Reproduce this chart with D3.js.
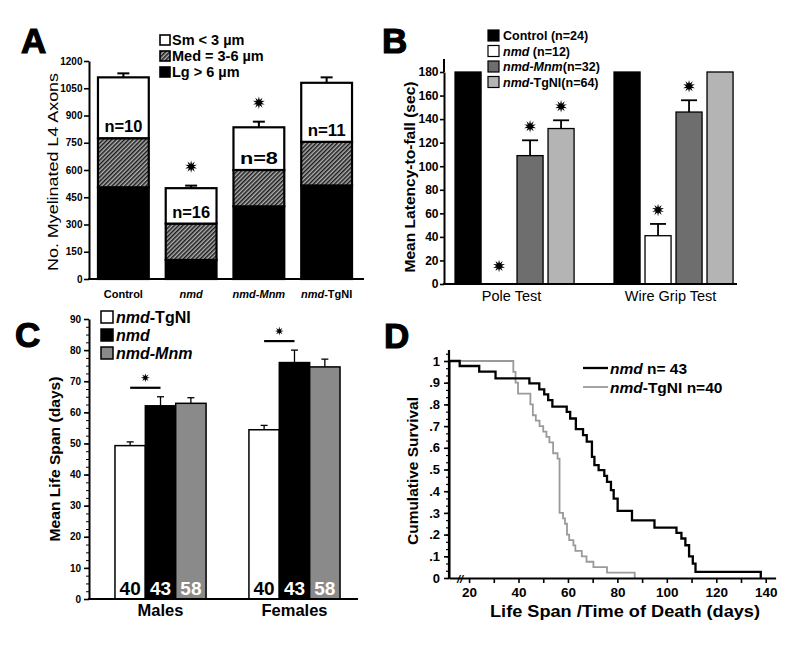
<!DOCTYPE html>
<html><head><meta charset="utf-8">
<script src="https://cdn.jsdelivr.net/npm/d3@7"></script>
<style>
body{margin:0;background:#fff}
svg{display:block;background:#fff}
text{font-family:"Liberation Sans",Arial,Helvetica,sans-serif}
</style>
</head><body>
<svg id="fig" width="800" height="654"></svg>
<script>
// ---------------- DATA ----------------
// Panel A: myelinated L4 axons (stacked)
const axonGroups = ["Control", "nmd", "nmd-Mnm", "nmd-TgNI"];
const axonLg  = [505, 105, 400, 515];
const axonMed = [270, 200, 200, 240];
const axonSm  = [335, 195, 235, 325];
const axonErr = [22, 14, 31, 30];
const axonN   = ["n=10", "n=16", "n=8", "n=11"];
const axonSig = [false, true, true, false];
const axonTicks = [0, 150, 300, 450, 600, 750, 900, 1050, 1200];

// Panel B: latency to fall
const tests = ["Pole Test", "Wire Grip Test"];
const latGenotypes = ["Control", "nmd", "nmd-Mnm", "nmd-TgNI"];
const latControl = [180, 180];
const latNmd     = [0, 41];
const latMnm     = [109, 146];
const latTgNI    = [132, 180];
const errControl = [0, 0];
const errNmd     = [0, 10];
const errMnm     = [13, 10];
const errTgNI    = [7, 0];
const sigControl = [false, false];
const sigNmd     = [true, true];
const sigMnm     = [true, true];
const sigTgNI    = [true, false];
const latTicks = [0, 20, 40, 60, 80, 100, 120, 140, 160, 180];

// Panel C: mean life span
const sexes = ["Males", "Females"];
const lifeGenotypes = ["nmd-TgNI", "nmd", "nmd-Mnm"];
const lifeTgNI = [49.3, 54.4];
const lifeNmd  = [62.1, 76.0];
const lifeMnm  = [62.9, 74.6];
const lifeErrTgNI = [1.2, 1.4];
const lifeErrNmd  = [2.9, 4.0];
const lifeErrMnm  = [1.8, 2.5];
const lifeN = ["40", "43", "58"];
const lifeTicks = [0, 10, 20, 30, 40, 50, 60, 70, 80, 90];

// Panel D: Kaplan-Meier survival steps [day, cumulative survival]
const kmNmd = [[12,1],[16.2,0.977],[24.1,0.951],[30.7,0.92],[44.4,0.897],[48.4,0.869],[50.4,0.846],
  [52,0.82],[53.7,0.79],[59.5,0.766],[60.9,0.735],[63.2,0.686],[66.1,0.658],[67.6,0.628],
  [69.7,0.558],[70.7,0.52],[72.4,0.497],[74.7,0.471],[75.8,0.443],[77.4,0.405],[78.5,0.366],
  [80.1,0.309],[85.9,0.266],[95,0.232],[103.9,0.208],[105.9,0.182],[107.5,0.151],[109,0.1],
  [110.5,0.066],[111.6,0.028],[138,0]];
const kmTgNI = [[12,1],[37.9,0.95],[38.8,0.9],[39.8,0.85],[44.8,0.8],[45.8,0.75],[47,0.725],
  [48.5,0.7],[50,0.675],[51.3,0.65],[52.5,0.625],[54,0.575],[55.8,0.55],[56.6,0.3],[58,0.275],
  [58.8,0.25],[59.6,0.2],[60.5,0.175],[62.2,0.15],[63,0.125],[65.6,0.1],[67.5,0.075],[70.3,0.05],
  [75.8,0.025],[87,0]];
const dayTicks = [20, 40, 60, 80, 100, 120, 140];
const survTicks = [0, .1, .2, .3, .4, .5, .6, .7, .8, .9, 1];

// ---------------- HELPERS ----------------
const svg = d3.select("#fig");
const defs = svg.append("defs");
const pat = defs.append("pattern").attr("id","hatch").attr("width",3).attr("height",3)
  .attr("patternUnits","userSpaceOnUse").attr("patternTransform","rotate(45)");
pat.append("rect").attr("width",3).attr("height",3).attr("fill","#b0b0b0");
pat.append("line").attr("x1",0.75).attr("y1",0).attr("x2",0.75).attr("y2",3).attr("stroke","#1a1a1a").attr("stroke-width",1.5);

function starPath(r1, r2, n) {
  const pts = [];
  for (let i = 0; i < 2*n; i++) {
    const a = i*Math.PI/n - Math.PI/2, r = i%2 ? r2 : r1;
    pts.push([r*Math.cos(a), r*Math.sin(a)]);
  }
  return "M" + pts.map(p => p[0].toFixed(2)+","+p[1].toFixed(2)).join("L") + "Z";
}
const bigStar = starPath(6.2, 2.8, 10);
const smallStar = starPath(4.5, 1.8, 8);

function mixedText(sel, parts) {
  parts.forEach(p => sel.append("tspan").attr("font-style", p[1] ? "italic" : "normal").text(p[0]));
  return sel;
}
function genoParts(name) {
  if (name === "nmd") return [["nmd", true]];
  if (name === "nmd-Mnm") return [["nmd-Mnm", true]];
  if (name === "nmd-TgNI") return [["nmd", true], ["-TgNI", false]];
  return [[name, false]];
}
function panelLetter(t, x, y) {
  svg.append("text").attr("x", x).attr("y", y).attr("font-size", 35).attr("font-weight", 900)
    .attr("stroke","#000").attr("stroke-width",1.2).text(t);
}
function styleAxis(g, fs, bold) {
  g.select(".domain").attr("stroke", "#000").attr("stroke-width", 2);
  g.selectAll(".tick line").attr("stroke", "#000").attr("stroke-width", 1.6);
  g.selectAll(".tick text").attr("font-size", fs).attr("font-weight", bold ? "bold" : "normal")
    .attr("fill", "#000").attr("font-family", '"Liberation Sans",Arial,sans-serif');
}

// ---------------- PANEL A ----------------
panelLetter("A", 21, 53);
const xA = d3.scaleBand().domain(axonGroups).range([89.5, 360.5]).paddingInner(0.25).paddingOuter(0.125);
const yA = d3.scaleLinear().domain([0, 1200]).range([279, 61]);
const rowsA = axonGroups.map((g, i) => ({group: g, lg: axonLg[i], med: axonMed[i], sm: axonSm[i]}));
const stackA = d3.stack().keys(["lg", "med", "sm"])(rowsA);
const fillA = {lg: "#000", med: "url(#hatch)", sm: "#fff"};
const gA = svg.append("g");
stackA.forEach(layer => {
  gA.selectAll(null).data(layer).join("rect")
    .attr("x", d => xA(d.data.group)).attr("width", xA.bandwidth())
    .attr("y", d => yA(d[1])).attr("height", d => yA(d[0]) - yA(d[1]))
    .attr("fill", fillA[layer.key]).attr("stroke", "#000").attr("stroke-width", 2.2);
});
rowsA.forEach((r, i) => {
  const tot = r.lg + r.med + r.sm, cx = xA(r.group) + xA.bandwidth()/2;
  gA.append("line").attr("x1", cx).attr("x2", cx).attr("y1", yA(tot)).attr("y2", yA(tot + axonErr[i]))
    .attr("stroke", "#000").attr("stroke-width", 2);
  gA.append("line").attr("x1", cx - 6).attr("x2", cx + 6).attr("y1", yA(tot + axonErr[i])).attr("y2", yA(tot + axonErr[i]))
    .attr("stroke", "#000").attr("stroke-width", 2);
  if (axonSig[i]) gA.append("path").attr("d", bigStar)
    .attr("transform", `translate(${cx},${yA(tot + axonErr[i]) - 19})`).attr("fill", "#000");
  gA.append("text").attr("x", cx).attr("y", yA(r.lg + r.med) - 6).attr("text-anchor", "middle")
    .attr("font-size", 17).attr("font-weight", "bold").attr("textLength", 38).attr("lengthAdjust","spacingAndGlyphs")
    .text(axonN[i]);
});
const axA = gA.append("g").attr("transform", "translate(89,0)")
  .call(d3.axisLeft(yA).tickValues(axonTicks).tickFormat(d3.format("d")).tickSize(5).tickSizeOuter(0).tickPadding(1.5));
styleAxis(axA, 10, true);
gA.append("line").attr("x1", 88).attr("x2", 364).attr("y1", yA(0)).attr("y2", yA(0)).attr("stroke", "#000").attr("stroke-width", 2);
axonGroups.forEach(g => {
  const t = gA.append("text").attr("x", xA(g) + xA.bandwidth()/2).attr("y", 298).attr("text-anchor", "middle")
    .attr("font-size", 11).attr("font-weight", "bold");
  mixedText(t, genoParts(g));
});
gA.append("text").attr("transform", "translate(58,172) rotate(-90)").attr("text-anchor", "middle")
  .attr("font-size", 14).attr("textLength", 198).attr("lengthAdjust","spacingAndGlyphs").text("No. Myelinated L4 Axons");
const legA = [["Sm < 3 µm", "#fff"], ["Med = 3-6 µm", "url(#hatch)"], ["Lg > 6 µm", "#000"]];
legA.forEach((d, i) => {
  const y = 35 + i*16;
  gA.append("rect").attr("x", 160).attr("y", y).attr("width", 10).attr("height", 10)
    .attr("fill", d[1]).attr("stroke", "#000").attr("stroke-width", 1.6);
  gA.append("text").attr("x", 172).attr("y", y + 10).attr("font-size", 14.5).attr("font-weight", "bold").text(d[0]);
});

// ---------------- PANEL B ----------------
panelLetter("B", 382, 53);
const x0B = d3.scaleBand().domain(tests).range([444.6, 743.5]).paddingInner(0.22).paddingOuter(0.05);
const x1B = d3.scaleBand().domain(latGenotypes).range([0, x0B.bandwidth()]).paddingInner(0.16).paddingOuter(0.08);
const yB = d3.scaleLinear().domain([0, 180]).range([284, 72]);
const colB = d3.scaleOrdinal().domain(latGenotypes).range(["#000", "#fff", "#6e6e6e", "#b4b4b4"]);
const valsB = {"Control": latControl, "nmd": latNmd, "nmd-Mnm": latMnm, "nmd-TgNI": latTgNI};
const errsB = {"Control": errControl, "nmd": errNmd, "nmd-Mnm": errMnm, "nmd-TgNI": errTgNI};
const sigsB = {"Control": sigControl, "nmd": sigNmd, "nmd-Mnm": sigMnm, "nmd-TgNI": sigTgNI};
const gB = svg.append("g");
tests.forEach((t, ti) => {
  latGenotypes.forEach(gn => {
    const v = valsB[gn][ti], e = errsB[gn][ti];
    const x = x0B(t) + x1B(gn), cx = x + x1B.bandwidth()/2;
    if (v > 0) gB.append("rect").attr("x", x).attr("width", x1B.bandwidth()).attr("y", yB(v)).attr("height", yB(0) - yB(v))
      .attr("fill", colB(gn)).attr("stroke", "#000").attr("stroke-width", 1.3);
    if (e > 0) {
      gB.append("line").attr("x1", cx).attr("x2", cx).attr("y1", yB(v)).attr("y2", yB(v + e)).attr("stroke", "#000").attr("stroke-width", 1.8);
      gB.append("line").attr("x1", cx - 8).attr("x2", cx + 8).attr("y1", yB(v + e)).attr("y2", yB(v + e)).attr("stroke", "#000").attr("stroke-width", 1.8);
    }
    if (sigsB[gn][ti]) gB.append("path").attr("d", bigStar)
      .attr("transform", `translate(${cx},${yB(v + e) - (v > 0 ? 14 : 18)})`).attr("fill", "#000");
  });
});
const axB = gB.append("g").attr("transform", "translate(444,0)")
  .call(d3.axisLeft(yB).tickValues(latTicks).tickSize(4).tickSizeOuter(0).tickPadding(1.5));
styleAxis(axB, 12, true);
gB.append("line").attr("x1", 444).attr("x2", 444).attr("y1", 59).attr("y2", yB(180)).attr("stroke", "#000").attr("stroke-width", 2);
gB.append("line").attr("x1", 443).attr("x2", 737).attr("y1", yB(0)).attr("y2", yB(0)).attr("stroke", "#000").attr("stroke-width", 2);
tests.forEach(t => {
  gB.append("text").attr("x", x0B(t) + x0B.bandwidth()/2 - 3).attr("y", 301).attr("text-anchor", "middle")
    .attr("font-size", 14.5).text(t);
});
gB.append("text").attr("transform", "translate(415,177) rotate(-90)").attr("text-anchor", "middle")
  .attr("font-size", 14).attr("font-weight", "bold").attr("textLength", 191).attr("lengthAdjust","spacingAndGlyphs")
  .text("Mean Latency-to-fall (sec)");
const legBText = [[["Control", false], [" (n=24)", false]], [["nmd", true], [" (n=12)", false]],
  [["nmd-Mnm", true], ["(n=32)", false]], [["nmd", true], ["-TgNI", false], ["(n=64)", false]]];
latGenotypes.forEach((gn, i) => {
  const y = 30 + i*15.5;
  gB.append("rect").attr("x", 488).attr("y", y).attr("width", 11).attr("height", 11)
    .attr("fill", colB(gn)).attr("stroke", "#000").attr("stroke-width", 1.2);
  mixedText(gB.append("text").attr("x", 503).attr("y", y + 10).attr("font-size", 12.5).attr("font-weight", "bold"), legBText[i]);
});

// ---------------- PANEL C ----------------
panelLetter("C", 15, 347);
const x0C = d3.scaleBand().domain(sexes).range([93, 362]).paddingInner(0.32).paddingOuter(0.164);
const x1C = d3.scaleBand().domain(lifeGenotypes).range([0, x0C.bandwidth()]);
const yC = d3.scaleLinear().domain([0, 90]).range([599, 319]);
const colC = d3.scaleOrdinal().domain(lifeGenotypes).range(["#fff", "#000", "#8a8a8a"]);
const nColC = d3.scaleOrdinal().domain(lifeGenotypes).range(["#000", "#fff", "#fff"]);
const valsC = {"nmd-TgNI": lifeTgNI, "nmd": lifeNmd, "nmd-Mnm": lifeMnm};
const errsC = {"nmd-TgNI": lifeErrTgNI, "nmd": lifeErrNmd, "nmd-Mnm": lifeErrMnm};
const gC = svg.append("g");
sexes.forEach((s, si) => {
  lifeGenotypes.forEach((gn, gi) => {
    const v = valsC[gn][si], e = errsC[gn][si];
    const x = x0C(s) + x1C(gn), cx = x + x1C.bandwidth()/2;
    gC.append("line").attr("x1", cx).attr("x2", cx).attr("y1", yC(v)).attr("y2", yC(v + e)).attr("stroke", "#000").attr("stroke-width", 1.3);
    gC.append("line").attr("x1", cx - 3.5).attr("x2", cx + 3.5).attr("y1", yC(v + e)).attr("y2", yC(v + e)).attr("stroke", "#000").attr("stroke-width", 1.3);
    gC.append("rect").attr("x", x).attr("width", x1C.bandwidth()).attr("y", yC(v)).attr("height", yC(0) - yC(v))
      .attr("fill", colC(gn)).attr("stroke", "#000").attr("stroke-width", 1.5);
    gC.append("text").attr("x", cx).attr("y", 595).attr("text-anchor", "middle").attr("font-size", 19)
      .attr("font-weight", "bold").attr("fill", nColC(gn)).text(lifeN[gi]);
  });
  // significance bracket between nmd-TgNI and nmd
  const xa = x0C(s) + x1C("nmd-TgNI") + x1C.bandwidth()/2, xb = x0C(s) + x1C("nmd") + x1C.bandwidth()/2;
  const top = yC(lifeNmd[si] + lifeErrNmd[si]) - 9;
  gC.append("line").attr("x1", xa).attr("x2", xb).attr("y1", top).attr("y2", top).attr("stroke", "#000").attr("stroke-width", 2.2);
  gC.append("path").attr("d", smallStar).attr("transform", `translate(${(xa + xb)/2},${top - 10})`).attr("fill", "#000");
});
const axC = gC.append("g").attr("transform", "translate(89,0)")
  .call(d3.axisLeft(yC).tickValues(lifeTicks).tickSize(5).tickSizeOuter(0).tickPadding(3));
styleAxis(axC, 10, true);
gC.append("g").attr("transform", "translate(89,0)")
  .call(d3.axisLeft(yC).tickValues(d3.range(0, 90, 2.5)).tickSize(3).tickFormat(""))
  .call(g => { g.select(".domain").remove(); g.selectAll("line").attr("stroke", "#000"); });
gC.append("line").attr("x1", 88).attr("x2", 358).attr("y1", yC(0)).attr("y2", yC(0)).attr("stroke", "#000").attr("stroke-width", 2.2);
sexes.forEach(s => {
  gC.append("text").attr("x", x0C(s) + x0C.bandwidth()/2).attr("y", 616).attr("text-anchor", "middle")
    .attr("font-size", 16.5).attr("font-weight", "bold").text(s);
});
gC.append("text").attr("transform", "translate(60,459) rotate(-90)").attr("text-anchor", "middle")
  .attr("font-size", 15).attr("font-weight", "bold").attr("textLength", 165).attr("lengthAdjust","spacingAndGlyphs")
  .text("Mean Life Span (days)");
lifeGenotypes.forEach((gn, i) => {
  const y = 311 + i*18;
  gC.append("rect").attr("x", 101).attr("y", y).attr("width", 12).attr("height", 12)
    .attr("fill", colC(gn)).attr("stroke", "#000").attr("stroke-width", 1.5);
  mixedText(gC.append("text").attr("x", 116).attr("y", y + 12).attr("font-size", 16).attr("font-weight", "bold"), genoParts(gn));
});

// ---------------- PANEL D ----------------
panelLetter("D", 384, 348);
const xD = d3.scaleLinear().domain([12, 144]).range([449.3, 775.6]);
const yD = d3.scaleLinear().domain([0, 1]).range([578, 361]);
const gD = svg.append("g");
const lineD = d3.line().x(d => xD(d[0])).y(d => yD(d[1])).curve(d3.curveStepAfter);
gD.append("path").datum(kmTgNI).attr("d", lineD).attr("fill", "none").attr("stroke", "#9a9a9a").attr("stroke-width", 1.8);
gD.append("path").datum(kmNmd).attr("d", lineD).attr("fill", "none").attr("stroke", "#000").attr("stroke-width", 2.3);
const axDy = gD.append("g").attr("transform", "translate(449,0)")
  .call(d3.axisLeft(yD).tickValues(survTicks).tickSize(5).tickSizeOuter(0).tickPadding(4)
    .tickFormat(d => d === 0 ? "0" : d === 1 ? "1" : "." + Math.round(d*10)));
styleAxis(axDy, 13, true);
gD.append("g").attr("transform", "translate(449,0)")
  .call(d3.axisLeft(yD).tickValues(d3.range(0, 1.04, 1/30)).tickSize(3).tickFormat(""))
  .call(g => { g.select(".domain").remove(); g.selectAll("line").attr("stroke", "#000").attr("stroke-width", 1.2); });
gD.append("line").attr("x1", 449).attr("x2", 449).attr("y1", 350).attr("y2", 579).attr("stroke", "#000").attr("stroke-width", 2.2);
const axDx = gD.append("g").attr("transform", `translate(0,${yD(0)})`)
  .call(d3.axisBottom(xD).tickValues(d3.range(20, 141, 10)).tickSize(5).tickSizeOuter(0).tickPadding(4)
    .tickFormat(d => dayTicks.includes(d) ? d : ""));
styleAxis(axDx, 13.5, true);
axDx.select(".domain").attr("stroke-width", 2.2);
gD.append("text").attr("x", 460).attr("y", 583).attr("text-anchor", "middle").attr("font-size", 11)
  .attr("font-weight", "bold").attr("font-style", "italic").text("//");
gD.append("text").attr("x", 625).attr("y", 617).attr("text-anchor", "middle").attr("font-size", 16)
  .attr("font-weight", "bold").attr("textLength", 270).attr("lengthAdjust","spacingAndGlyphs")
  .text("Life Span /Time of Death (days)");
gD.append("text").attr("transform", "translate(418,471) rotate(-90)").attr("text-anchor", "middle")
  .attr("font-size", 15).attr("font-weight", "bold").attr("textLength", 148).attr("lengthAdjust","spacingAndGlyphs")
  .text("Cumulative Survival");
const legD = [["#000", 2.3, [["nmd", true], [" n= 43", false]]], ["#9a9a9a", 1.8, [["nmd", true], ["-TgNI", false], [" n=40", false]]]];
legD.forEach((d, i) => {
  const y = 368 + i*19;
  gD.append("line").attr("x1", 583).attr("x2", 608).attr("y1", y).attr("y2", y).attr("stroke", d[0]).attr("stroke-width", d[1]);
  mixedText(gD.append("text").attr("x", 610).attr("y", y + 5.5).attr("font-size", 15.5).attr("font-weight", "bold"), d[2]);
});
</script>
</body></html>
